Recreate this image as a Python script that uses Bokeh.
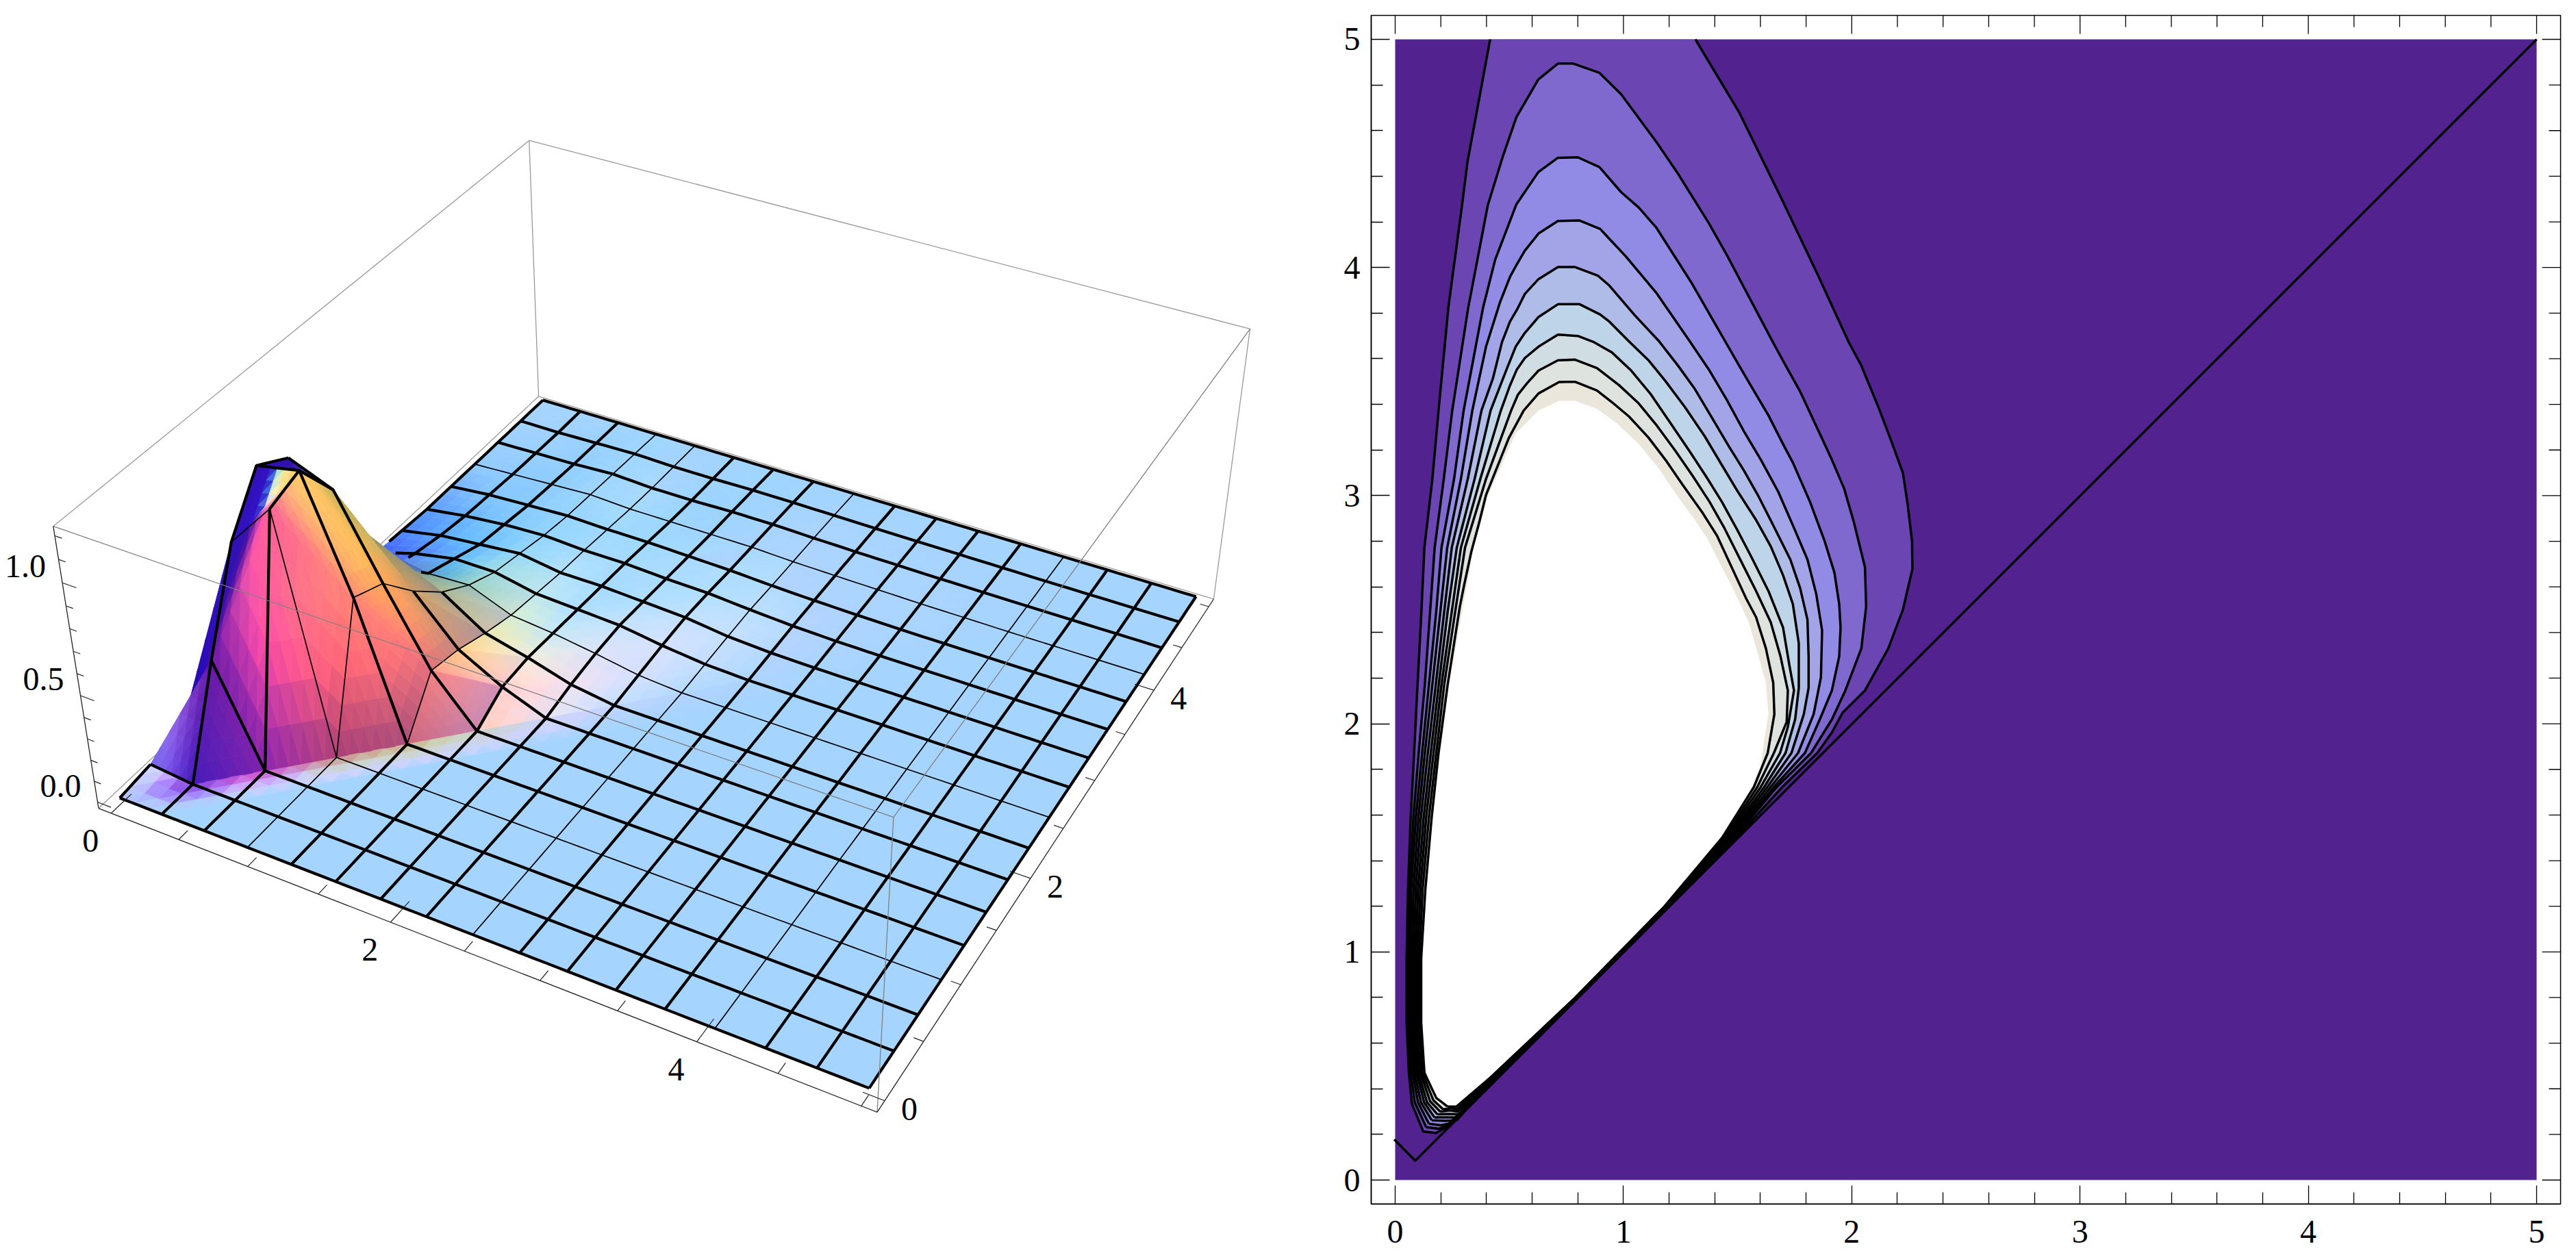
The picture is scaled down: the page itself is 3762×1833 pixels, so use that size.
import numpy as np
from bokeh.core.properties import value
from bokeh.embed import file_html
from bokeh.layouts import row
from bokeh.models import ColumnDataSource, FixedTicker, LinearAxis, Range1d
from bokeh.plotting import figure
from bokeh.resources import INLINE

# ---------- right panel: contour lines ----------
TICK_MAJOR = [0, 1, 2, 3, 4, 5]
TICK_MINOR = [0.2, 0.4, 0.6, 0.8, 1.2, 1.4, 1.6, 1.8, 2.2, 2.4, 2.6, 2.8, 3.2, 3.4, 3.6, 3.8, 4.2, 4.4, 4.6, 4.8]
BAND_COLORS = ["#6B46B3", "#7F69CF", "#918BE5", "#A3A4E8", "#B0BCE8", "#BED4E8", "#D0DEE4", "#DFE3E0", "#EAE6DC"]
BACKGROUND = "#52238F"
ZERO_CONTOUR = [(-0.004, 0.178), (0.088, 0.085), (5.0, 5.0)]
CONTOUR_1 = [(1.315, 5.0), (1.507, 4.68), (1.698, 4.29), (1.851, 3.968), (1.986, 3.674), (2.042, 3.57), (2.117, 3.387), (2.170, 3.248), (2.224, 3.10), (2.245, 2.961), (2.264, 2.80), (2.266, 2.68), (2.224, 2.50), (2.160, 2.33), (2.058, 2.146), (1.961, 2.05), (1.913, 1.962), (1.849, 1.872), (1.695, 1.722), (1.494, 1.5), (1.197, 1.2), (0.797, 0.8), (0.447, 0.45), (0.213, 0.226), (0.178, 0.206), (0.123, 0.213), (0.073, 0.336), (0.06, 0.47), (0.050, 0.69), (0.050, 0.971), (0.056, 1.271), (0.068, 1.591), (0.083, 1.871), (0.098, 2.172), (0.115, 2.492), (0.128, 2.772), (0.163, 3.073), (0.190, 3.373), (0.233, 3.824), (0.293, 4.274), (0.317, 4.464), (0.416, 5.0)]
CONTOUR_2 = [(0.136, 0.232), (0.086, 0.34), (0.068, 0.47), (0.058, 0.69), (0.058, 0.971), (0.064, 1.271), (0.080, 1.591), (0.103, 1.871), (0.130, 2.172), (0.153, 2.492), (0.173, 2.772), (0.213, 3.073), (0.250, 3.373), (0.320, 3.824), (0.406, 4.274), (0.473, 4.491), (0.531, 4.659), (0.627, 4.824), (0.713, 4.894), (0.78, 4.894), (0.895, 4.853), (0.99, 4.759), (1.143, 4.552), (1.239, 4.411), (1.373, 4.196), (1.449, 4.062), (1.654, 3.674), (1.710, 3.571), (1.774, 3.456), (1.849, 3.295), (1.913, 3.157), (1.967, 3.03), (2.010, 2.881), (2.058, 2.686), (2.063, 2.513), (2.042, 2.33), (1.972, 2.146), (1.913, 2.019), (1.822, 1.872), (1.671, 1.722), (1.486, 1.5), (1.195, 1.2), (0.796, 0.8), (0.444, 0.45), (0.235, 0.24), (0.19, 0.225)]
CONTOUR_3 = [(0.148, 0.247), (0.1, 0.34), (0.077, 0.47), (0.066, 0.69), (0.066, 0.971), (0.070, 1.271), (0.091, 1.591), (0.118, 1.871), (0.148, 2.172), (0.180, 2.492), (0.203, 2.772), (0.258, 3.073), (0.300, 3.373), (0.385, 3.824), (0.438, 4.034), (0.531, 4.277), (0.627, 4.418), (0.713, 4.481), (0.80, 4.483), (0.895, 4.44), (0.99, 4.33), (1.067, 4.263), (1.143, 4.176), (1.30, 3.93), (1.447, 3.674), (1.506, 3.571), (1.56, 3.479), (1.635, 3.352), (1.699, 3.226), (1.742, 3.145), (1.817, 2.973), (1.881, 2.801), (1.924, 2.663), (1.945, 2.525), (1.951, 2.422), (1.945, 2.295), (1.913, 2.146), (1.86, 2.019), (1.795, 1.872), (1.658, 1.722), (1.478, 1.5), (1.193, 1.2), (0.795, 0.8), (0.44, 0.45), (0.25, 0.25), (0.2, 0.24)]
CONTOUR_4 = [(0.16, 0.262), (0.113, 0.34), (0.085, 0.47), (0.074, 0.69), (0.074, 0.971), (0.080, 1.271), (0.102, 1.591), (0.130, 1.871), (0.163, 2.172), (0.198, 2.492), (0.228, 2.772), (0.288, 3.073), (0.338, 3.373), (0.398, 3.653), (0.458, 3.844), (0.503, 3.959), (0.533, 4.014), (0.568, 4.074), (0.628, 4.149), (0.713, 4.204), (0.808, 4.206), (0.898, 4.169), (0.938, 4.126), (1.01, 4.049), (1.143, 3.89), (1.292, 3.674), (1.377, 3.548), (1.452, 3.421), (1.527, 3.283), (1.602, 3.157), (1.677, 3.019), (1.752, 2.847), (1.806, 2.72), (1.844, 2.571), (1.870, 2.41), (1.865, 2.203), (1.833, 2.042), (1.765, 1.872), (1.644, 1.722), (1.471, 1.5), (1.19, 1.2), (0.794, 0.8), (0.436, 0.45), (0.27, 0.262), (0.22, 0.26)]
CONTOUR_5 = [(0.172, 0.275), (0.127, 0.34), (0.094, 0.47), (0.082, 0.69), (0.082, 0.971), (0.09, 1.271), (0.113, 1.591), (0.143, 1.871), (0.178, 2.172), (0.215, 2.492), (0.248, 2.772), (0.318, 3.073), (0.378, 3.373), (0.428, 3.513), (0.468, 3.673), (0.503, 3.763), (0.533, 3.814), (0.568, 3.884), (0.628, 3.949), (0.713, 4.002), (0.788, 4.002), (0.888, 3.964), (0.938, 3.921), (1.05, 3.79), (1.158, 3.674), (1.238, 3.571), (1.313, 3.467), (1.388, 3.341), (1.463, 3.214), (1.527, 3.111), (1.592, 2.996), (1.656, 2.87), (1.731, 2.72), (1.774, 2.594), (1.806, 2.456), (1.811, 2.295), (1.811, 2.157), (1.79, 2.042), (1.736, 1.872), (1.63, 1.722), (1.463, 1.5), (1.188, 1.2), (0.793, 0.8), (0.432, 0.45), (0.28, 0.275), (0.23, 0.275)]
CONTOUR_6 = [(0.185, 0.288), (0.14, 0.34), (0.102, 0.47), (0.09, 0.69), (0.09, 0.971), (0.1, 1.271), (0.125, 1.591), (0.156, 1.871), (0.191, 2.172), (0.23, 2.492), (0.27, 2.772), (0.348, 3.073), (0.418, 3.373), (0.488, 3.553), (0.528, 3.653), (0.568, 3.713), (0.628, 3.783), (0.713, 3.839), (0.808, 3.839), (0.898, 3.794), (0.938, 3.763), (1.026, 3.674), (1.109, 3.594), (1.184, 3.502), (1.270, 3.387), (1.356, 3.26), (1.431, 3.134), (1.5, 3.019), (1.581, 2.893), (1.645, 2.778), (1.699, 2.651), (1.742, 2.525), (1.768, 2.353), (1.768, 2.157), (1.752, 2.019), (1.71, 1.872), (1.616, 1.722), (1.455, 1.5), (1.186, 1.2), (0.792, 0.8), (0.428, 0.45), (0.278, 0.288), (0.235, 0.29)]
CONTOUR_7 = [(0.197, 0.30), (0.153, 0.345), (0.111, 0.47), (0.098, 0.69), (0.098, 0.971), (0.11, 1.271), (0.136, 1.591), (0.168, 1.871), (0.203, 2.172), (0.248, 2.492), (0.288, 2.772), (0.373, 3.073), (0.463, 3.373), (0.503, 3.483), (0.533, 3.553), (0.568, 3.603), (0.628, 3.653), (0.713, 3.706), (0.80, 3.70), (0.868, 3.674), (0.949, 3.628), (1.034, 3.548), (1.120, 3.444), (1.206, 3.318), (1.292, 3.191), (1.367, 3.076), (1.431, 2.973), (1.5, 2.847), (1.56, 2.732), (1.635, 2.582), (1.699, 2.422), (1.726, 2.261), (1.747, 2.146), (1.72, 1.985), (1.686, 1.872), (1.601, 1.722), (1.447, 1.5), (1.184, 1.2), (0.791, 0.8), (0.425, 0.45), (0.274, 0.30), (0.24, 0.305)]
CONTOUR_8 = [(0.21, 0.31), (0.167, 0.35), (0.119, 0.47), (0.106, 0.69), (0.106, 0.971), (0.12, 1.271), (0.148, 1.591), (0.18, 1.871), (0.215, 2.172), (0.263, 2.492), (0.306, 2.772), (0.398, 3.073), (0.508, 3.373), (0.538, 3.443), (0.578, 3.493), (0.628, 3.548), (0.713, 3.593), (0.788, 3.596), (0.884, 3.559), (0.981, 3.484), (1.067, 3.404), (1.147, 3.306), (1.227, 3.197), (1.302, 3.088), (1.377, 2.973), (1.442, 2.858), (1.517, 2.709), (1.581, 2.582), (1.645, 2.445), (1.688, 2.295), (1.72, 2.146), (1.715, 2.008), (1.659, 1.872), (1.586, 1.722), (1.44, 1.5), (1.182, 1.2), (0.79, 0.8), (0.421, 0.45), (0.27, 0.31), (0.245, 0.315)]
CONTOUR_9 = [(0.228, 0.323), (0.18, 0.36), (0.128, 0.47), (0.114, 0.69), (0.114, 0.971), (0.132, 1.271), (0.16, 1.591), (0.19, 1.871), (0.23, 2.172), (0.283, 2.512), (0.303, 2.612), (0.333, 2.752), (0.368, 2.882), (0.398, 3.003), (0.438, 3.103), (0.498, 3.253), (0.563, 3.373), (0.628, 3.448), (0.718, 3.498), (0.788, 3.499), (0.884, 3.461), (0.949, 3.410), (1.024, 3.347), (1.109, 3.255), (1.184, 3.157), (1.259, 3.048), (1.345, 2.927), (1.41, 2.824), (1.474, 2.686), (1.538, 2.548), (1.581, 2.467), (1.624, 2.33), (1.656, 2.18), (1.661, 2.042), (1.632, 1.872), (1.571, 1.722), (1.432, 1.5), (1.18, 1.2), (0.789, 0.8), (0.418, 0.45), (0.268, 0.322)]
WHITE_REGION = [(0.718, 3.415), (0.788, 3.415), (0.884, 3.381), (0.970, 3.318), (1.067, 3.226), (1.152, 3.122), (1.238, 2.996), (1.313, 2.893), (1.367, 2.812), (1.431, 2.686), (1.485, 2.582), (1.549, 2.445), (1.592, 2.295), (1.624, 2.180), (1.635, 2.042), (1.62, 1.95), (1.598, 1.802), (1.568, 1.732), (1.508, 1.631), (1.448, 1.531), (1.368, 1.426), (1.268, 1.311), (1.168, 1.186), (0.968, 0.991), (0.768, 0.781), (0.568, 0.581), (0.488, 0.501), (0.418, 0.451), (0.358, 0.381), (0.313, 0.363), (0.268, 0.320), (0.228, 0.318), (0.188, 0.341), (0.153, 0.401), (0.128, 0.521), (0.118, 0.671), (0.116, 0.971), (0.136, 1.271), (0.160, 1.572), (0.193, 1.871), (0.236, 2.172), (0.290, 2.472), (0.343, 2.772), (0.408, 3.003), (0.528, 3.273), (0.628, 3.373)]
CONTOURS = [CONTOUR_1, CONTOUR_2, CONTOUR_3, CONTOUR_4, CONTOUR_5, CONTOUR_6, CONTOUR_7, CONTOUR_8, CONTOUR_9]

# ---------- left panel: surface heights ----------
MESH_CELLS = 16
THIN_LINES = [3, 8, 13]
SURFACE_Z = [
    [0.00] * 17,
    [0.02, 0.00] + [0.0] * 15,
    [0.03, 0.45, 0.00] + [0.0] * 14,
    [0.05, 0.86, 1.07, 0.00] + [0.0] * 13,
    [0.05, 1.08, 1.12, 0.62, 0.00] + [0.0] * 12,
    [0.05, 1.00, 0.92, 0.56, 0.22, 0.00] + [0.0] * 11,
    [0.05, 0.70, 0.60, 0.40, 0.19, 0.08, 0.00] + [0.0] * 10,
    [0.04, 0.40, 0.32, 0.27, 0.14, 0.09, 0.03, 0.00] + [0.0] * 9,
    [0.03, 0.12, 0.17, 0.18, 0.10, 0.08, 0.05, 0.015, 0.00] + [0.0] * 8,
    [0.02, 0.08, 0.12, 0.12, 0.08, 0.07, 0.06, 0.03, 0.008, 0.00] + [0.0] * 7,
    [0.01, 0.05, 0.07, 0.09, 0.06, 0.06, 0.05, 0.04, 0.015, 0.004, 0.00] + [0.0] * 6,
    [0.00, 0.03, 0.05, 0.06, 0.05, 0.05, 0.04, 0.035, 0.02, 0.008, 0.002, 0.00] + [0.0] * 5,
    [0.00, 0.02, 0.03, 0.04, 0.035, 0.035, 0.03, 0.025, 0.015, 0.008, 0.004, 0.001, 0.00] + [0.0] * 4,
    [0.00, 0.01, 0.02, 0.03, 0.02, 0.02, 0.02, 0.02, 0.012, 0.008, 0.005, 0.002, 0.001, 0.00] + [0.0] * 3,
    [0.00, 0.005, 0.01, 0.02, 0.01, 0.01, 0.015, 0.015, 0.01, 0.006, 0.004, 0.002, 0.001, 0.00] + [0.0] * 3,
    [0.00, 0.00, 0.005, 0.01, 0.005, 0.005, 0.008, 0.008, 0.006, 0.004, 0.003, 0.002, 0.001, 0.00] + [0.0] * 3,
    [0.00] * 17,
]
X_LABELS = ["0", "2", "4"]
X_LABEL_VALUES = [0, 2, 4]
Y_LABELS = ["0", "2", "4"]
Y_LABEL_VALUES = [0, 2, 4]
Z_LABELS = ["0.0", "0.5", "1.0"]
Z_LABEL_VALUES = [0.0, 0.5, 1.0]
SERIF = value("Liberation Serif")

# Camera: the box corners seen in the picture fix the projection
XMIN, XMAX, YMIN, YMAX, ZMIN, ZMAX = -0.094, 5.094, -0.094, 5.094, -0.03, 1.24
calib = [
    ((XMIN, YMIN, ZMIN), (142.4, 1179.5)), ((XMAX, YMIN, ZMIN), (1281.3, 1625)),
    ((XMAX, YMAX, ZMIN), (1772.8, 873.3)), ((XMIN, YMAX, ZMIN), (786, 578)),
    ((XMIN, YMIN, ZMAX), (77.5, 768.8)), ((XMAX, YMIN, ZMAX), (1303, 1193)),
    ((XMAX, YMAX, ZMAX), (1826, 480)), ((XMIN, YMAX, ZMAX), (773, 204)),
    ((0, 0, 0), (175, 1165)), ((5, 0, 0), (1270, 1588)), ((5, 5, 0), (1744, 872)),
    ((0, 5, 0), (792, 585)), ((0.9375, 0.9375, 0), (491, 1105.4)),
]
# weighted, normalised DLT, so the error is measured in picture pixels
w3 = np.ones(len(calib))
for _ in range(30):
    rows = []
    for ((a, b, c), (u_, v_)), w_ in zip(calib, w3):
        u_n, v_n = (u_ - 900) / 800, (v_ - 900) / 800
        rows.append(np.array([a, b, c, 1, 0, 0, 0, 0, -u_n * a, -u_n * b, -u_n * c, -u_n]) / w_)
        rows.append(np.array([0, 0, 0, 0, a, b, c, 1, -v_n * a, -v_n * b, -v_n * c, -v_n]) / w_)
    sol = np.linalg.svd(np.array(rows, float))[2][-1].reshape(3, 4)
    w3 = np.array([sol[2] @ np.array([*p, 1.0]) for p, _ in calib])
CAMERA = np.array([[800, 0, 900], [0, 800, 900], [0, 0, 1]], float) @ sol


def project(pts):
    pts = np.atleast_2d(np.asarray(pts, float))
    h = CAMERA @ np.c_[pts, np.ones(len(pts))].T
    return (h[0] / h[2], h[1] / h[2])


# view basis (box coordinates) used for lighting and hidden-surface depth
R_VEC = np.array([1095, 545, 116]) / 1223
U_VEC = np.array([-423, 648, 947]) / 1223
V_VEC = np.cross(R_VEC, U_VEC)
BOX = np.array([1 / 5.2, 1 / 5.2, 0.4 / 1.27])
L_RED = np.array([0.688, -0.229, 0.688])
L_GRN = np.array([0.577, 0.577, 0.577])
L_BLU = np.array([-0.577, 0.577, 0.577])


def depth(pts):
    return (np.asarray(pts) * BOX) @ V_VEC


def shade(n, z, face_n, face_top):
    nv = np.array([n @ R_VEC, n @ U_VEC, n @ V_VEC])
    r = 0.39 + 0.8 * max(0, nv @ L_RED)
    g = 0.14 + 0.8 * max(0, nv @ L_GRN)
    b = 0.40 + 0.8 * max(0, (nv @ L_BLU + 0.4) / 1.4)
    steep = float(np.clip((1 - face_n[2]) * 2.5, 0, 1)) * float(np.clip(face_top / 0.3, 0, 1))
    br = 0.55 + 0.45 * min(z / 0.55, 1)
    bg = 0.45 + 0.55 * min(z / 0.7, 1)
    r *= 1 - steep * (1 - br)
    g *= 1 - steep * (1 - bg)
    b *= 1 - 0.12 * steep
    if nv[0] < 0:
        f = 1 + 1.0 * max(nv[0], -0.5)
        r *= f
        g *= f
        b *= 1 + 0.5 * max(nv[0], -0.5)
    if face_n[2] > 0.999:
        r = min(r, 0.80)
        g = min(g, 0.83)
    c = np.clip([r, g, b], 0, 1)
    return "#%02x%02x%02x" % tuple(int(round(v * 255)) for v in c)


Z = np.array(SURFACE_Z, float)
step = 5 / MESH_CELLS
grid = np.arange(MESH_CELLS + 1) * step
dzdy, dzdx = np.gradient(Z * BOX[2] * 1.8, step * BOX[0])
normals = np.dstack([-dzdx, -dzdy, np.ones_like(Z)])
normals /= np.linalg.norm(normals, axis=2, keepdims=True)


def vertex(i, j):
    return np.array([grid[i], grid[j], Z[j, i]]), normals[j, i]


parent_tris = []
faces = []
for j in range(MESH_CELLS):
    for i in range(MESH_CELLS):
        for tri in (((i, j), (i + 1, j), (i + 1, j + 1)), ((i, j), (i + 1, j + 1), (i, j + 1))):
            verts = [vertex(*t) for t in tri]
            pos = np.array([v[0] for v in verts])
            nor = np.array([v[1] for v in verts])
            parent_tris.append(pos)
            fn = np.cross((pos[1] - pos[0]) * BOX, (pos[2] - pos[0]) * BOX)
            fn = fn / np.linalg.norm(fn)
            ftop = pos[:, 2].max()
            n_sub = 1 if np.allclose(nor[:, 2], 1, atol=1e-4) else (6 if ftop > 0.15 else 3)
            for a in range(n_sub):
                for b in range(n_sub - a):
                    cells = [((a, b), (a + 1, b), (a, b + 1))]
                    if a + b < n_sub - 1:
                        cells.append(((a + 1, b), (a + 1, b + 1), (a, b + 1)))
                    for cell in cells:
                        w = np.array([[p / n_sub, q / n_sub, 1 - (p + q) / n_sub] for p, q in cell])
                        sub = w @ pos
                        nc = w.mean(axis=0) @ nor
                        nc /= np.linalg.norm(nc)
                        sx, sy = project(sub)
                        faces.append((depth(sub).mean(), list(sx), list(sy), shade(nc, sub[:, 2].mean(), fn, ftop)))
faces.sort(key=lambda f: f[0])

# hidden-line test for the mesh lines
parent = np.array(parent_tris)
tri_s = np.array([np.c_[project(t)] for t in parent])
tri_d = np.array([depth(t) for t in parent])


def visible(pts):
    sx, sy = project(pts)
    dp = depth(pts)
    vis = np.ones(len(pts), bool)
    for (p0, p1, p2), (d0, d1, d2) in zip(tri_s, tri_d):
        den = (p1[1] - p2[1]) * (p0[0] - p2[0]) + (p2[0] - p1[0]) * (p0[1] - p2[1])
        if abs(den) < 1e-9:
            continue
        l0 = ((p1[1] - p2[1]) * (sx - p2[0]) + (p2[0] - p1[0]) * (sy - p2[1])) / den
        l1 = ((p2[1] - p0[1]) * (sx - p2[0]) + (p0[0] - p2[0]) * (sy - p2[1])) / den
        l2 = 1 - l0 - l1
        inside = (l0 > 0.001) & (l1 > 0.001) & (l2 > 0.001)
        vis &= ~(inside & (l0 * d0 + l1 * d1 + l2 * d2 > dp + 0.012))
    return vis


def mesh_line(i=None, j=None, lo=0, hi=MESH_CELLS):
    pts = []
    for k in range(lo, hi):
        for t in (0, 0.25, 0.5, 0.75):
            if i is not None:
                pts.append([grid[i], grid[k] + t * step, Z[k, i] * (1 - t) + Z[k + 1, i] * t])
            else:
                pts.append([grid[k] + t * step, grid[j], Z[j, k] * (1 - t) + Z[j, k + 1] * t])
    if i is not None:
        pts.append([grid[i], grid[hi], Z[hi, i]])
    else:
        pts.append([grid[hi], grid[j], Z[j, hi]])
    pts = np.array(pts)
    vis = visible(pts)
    sx, sy = project(pts)
    runs, cur = [], []
    for k in range(len(pts)):
        if vis[k]:
            cur.append(k)
        else:
            if len(cur) > 1:
                runs.append(cur)
            cur = []
    if len(cur) > 1:
        runs.append(cur)
    return [(list(sx[r]), list(sy[r])) for r in runs]


thick, thin = [], []
for k in range(MESH_CELLS + 1):
    if k in THIN_LINES:
        thin += mesh_line(i=k) + mesh_line(j=k)
    elif k == 4:
        thick += mesh_line(i=k, lo=0, hi=4) + mesh_line(j=k)
        thin += mesh_line(i=k, lo=4, hi=MESH_CELLS)
    else:
        thick += mesh_line(i=k) + mesh_line(j=k)

# ---------- left figure: its frame shares the row's top and bottom borders ----------
left = figure(frame_width=1958, frame_height=1736, x_range=Range1d(0, 1958), y_range=Range1d(1758, 22),
              output_backend="svg", toolbar_location=None, min_border_left=0, min_border_right=0,
              min_border_top=22, min_border_bottom=72, outline_line_color=None)
left.xaxis.visible = False
left.yaxis.visible = False
left.xgrid.visible = False
left.ygrid.visible = False


def edge(a, b, color, width, fig=left):
    sx, sy = project([a, b])
    fig.line(list(sx), list(sy), line_color=color, line_width=width)


GRAY = "#999999"
c = {(xi, yi, zi): (XMIN if xi == 0 else XMAX, YMIN if yi == 0 else YMAX, ZMIN if zi == 0 else ZMAX)
     for xi in (0, 1) for yi in (0, 1) for zi in (0, 1)}
for a, b in [((0, 0, 0), (0, 1, 0)), ((0, 1, 0), (1, 1, 0)), ((0, 1, 0), (0, 1, 1)), ((1, 1, 0), (1, 1, 1)),
             ((0, 0, 1), (0, 1, 1)), ((0, 1, 1), (1, 1, 1))]:
    edge(c[a], c[b], GRAY, 1.3)

src = ColumnDataSource(dict(xs=[f[1] for f in faces], ys=[f[2] for f in faces], color=[f[3] for f in faces]))
left.patches("xs", "ys", source=src, fill_color="color", line_color="color", line_width=0.8)
left.multi_line([r[0] for r in thin], [r[1] for r in thin], line_color="black", line_width=1.7)
left.multi_line([r[0] for r in thick], [r[1] for r in thick], line_color="black", line_width=4.2)

for a, b in [((0, 0, 1), (1, 0, 1)), ((1, 0, 1), (1, 1, 1)), ((1, 0, 0), (1, 0, 1))]:
    edge(c[a], c[b], "#808080", 1.3)
for a, b in [((0, 0, 0), (1, 0, 0)), ((1, 0, 0), (1, 1, 0)), ((0, 0, 0), (0, 0, 1))]:
    edge(c[a], c[b], "#222222", 1.3)

segs_x, segs_y = [], []
for k in range(0, 11):
    v_ = k * 0.5
    ln = 0.2 if k % 4 == 0 else 0.09
    a = project([(v_, YMIN, ZMIN), (v_, YMIN + ln, ZMIN)])
    segs_x.append(list(a[0])); segs_y.append(list(a[1]))
    ln = 0.13 if k % 4 == 0 else 0.06
    a = project([(XMAX, v_, ZMIN), (XMAX - ln, v_, ZMIN)])
    segs_x.append(list(a[0])); segs_y.append(list(a[1]))
for k in range(0, 13):
    v_ = k * 0.1
    ln = 0.1 if k % 5 == 0 else 0.05
    a = project([(XMIN, YMIN, v_), (XMIN + ln, YMIN, v_)])
    segs_x.append(list(a[0])); segs_y.append(list(a[1]))
left.multi_line(segs_x, segs_y, line_color="#222222", line_width=1.2)

font = "48px"
sx, sy = project([(v_, YMIN, ZMIN) for v_ in X_LABEL_VALUES])
left.text(list(sx), list(sy), text=X_LABELS, text_font=SERIF, text_font_size=font, text_align="center",
          text_baseline="middle", x_offset=-30, y_offset=40, text_color="black")
sx, sy = project([(XMAX, v_, ZMIN) for v_ in Y_LABEL_VALUES])
left.text(list(sx), list(sy), text=Y_LABELS, text_font=SERIF, text_font_size=font, text_align="center",
          text_baseline="middle", x_offset=36, y_offset=12, text_color="black")
sx, sy = project([(XMIN, YMIN, v_) for v_ in Z_LABEL_VALUES])
left.text(list(sx), list(sy), text=Z_LABELS, text_font=SERIF, text_font_size=font, text_align="right",
          text_baseline="middle", x_offset=-24, y_offset=-24, text_color="black")

# ---------- right figure ----------
PAD = 0.105
right = figure(frame_width=1737, frame_height=1736, x_range=Range1d(-PAD, 5 + PAD), y_range=Range1d(-PAD, 5 + PAD),
               output_backend="svg", toolbar_location=None, min_border_left=44, min_border_top=22,
               min_border_bottom=72, min_border_right=15, x_axis_location=None, y_axis_location=None,
               outline_line_color="black", outline_line_width=1.5, outline_line_alpha=1)
right.xgrid.visible = False
right.ygrid.visible = False
ticker = FixedTicker(ticks=TICK_MAJOR, minor_ticks=TICK_MINOR)
for place in ("below", "left"):
    ax = LinearAxis(ticker=ticker, axis_line_color="black", axis_line_width=1.5,
                    major_tick_in=27, major_tick_out=0, minor_tick_in=17, minor_tick_out=0,
                    major_tick_line_color="black", minor_tick_line_color="black",
                    major_tick_line_width=1.3, minor_tick_line_width=1.3,
                    major_label_text_font="Liberation Serif", major_label_text_color="black",
                    major_label_text_font_size="48px",
                    major_label_standoff=24 if place == "below" else 16)
    right.add_layout(ax, place)

right.quad(left=0, right=5, bottom=0, top=5, fill_color=BACKGROUND, line_color=None)
right.patches([[p[0] for p in cc] for cc in CONTOURS], [[p[1] for p in cc] for cc in CONTOURS],
              fill_color=BAND_COLORS, line_color=None)
right.patch([p[0] for p in WHITE_REGION], [p[1] for p in WHITE_REGION], fill_color="white", line_color=None)
lx, ly = [], []
for n_, cc in enumerate(CONTOURS):
    path = cc if n_ == 0 else cc + [cc[0]]
    lx.append([p[0] for p in path])
    ly.append([p[1] for p in path])
lx.append([p[0] for p in ZERO_CONTOUR])
ly.append([p[1] for p in ZERO_CONTOUR])
right.multi_line(lx, ly, line_color="black", line_width=3.5, line_join="round")

# mirrored ticks on the top and right edges of the frame
UNIT_PER_PX = (5 + 2 * PAD) / 1737
top = 5 + PAD
rgt = 5 + PAD
for vals, ln in ((TICK_MAJOR, 27 * UNIT_PER_PX), (TICK_MINOR, 17 * UNIT_PER_PX)):
    right.segment(vals, [top] * len(vals), vals, [top - ln] * len(vals), line_color="black", line_width=1.3)
    right.segment([rgt] * len(vals), vals, [rgt - ln] * len(vals), vals, line_color="black", line_width=1.3)

page = row(left, right, spacing=0)
open("out.html", "w").write(file_html(page, INLINE))
